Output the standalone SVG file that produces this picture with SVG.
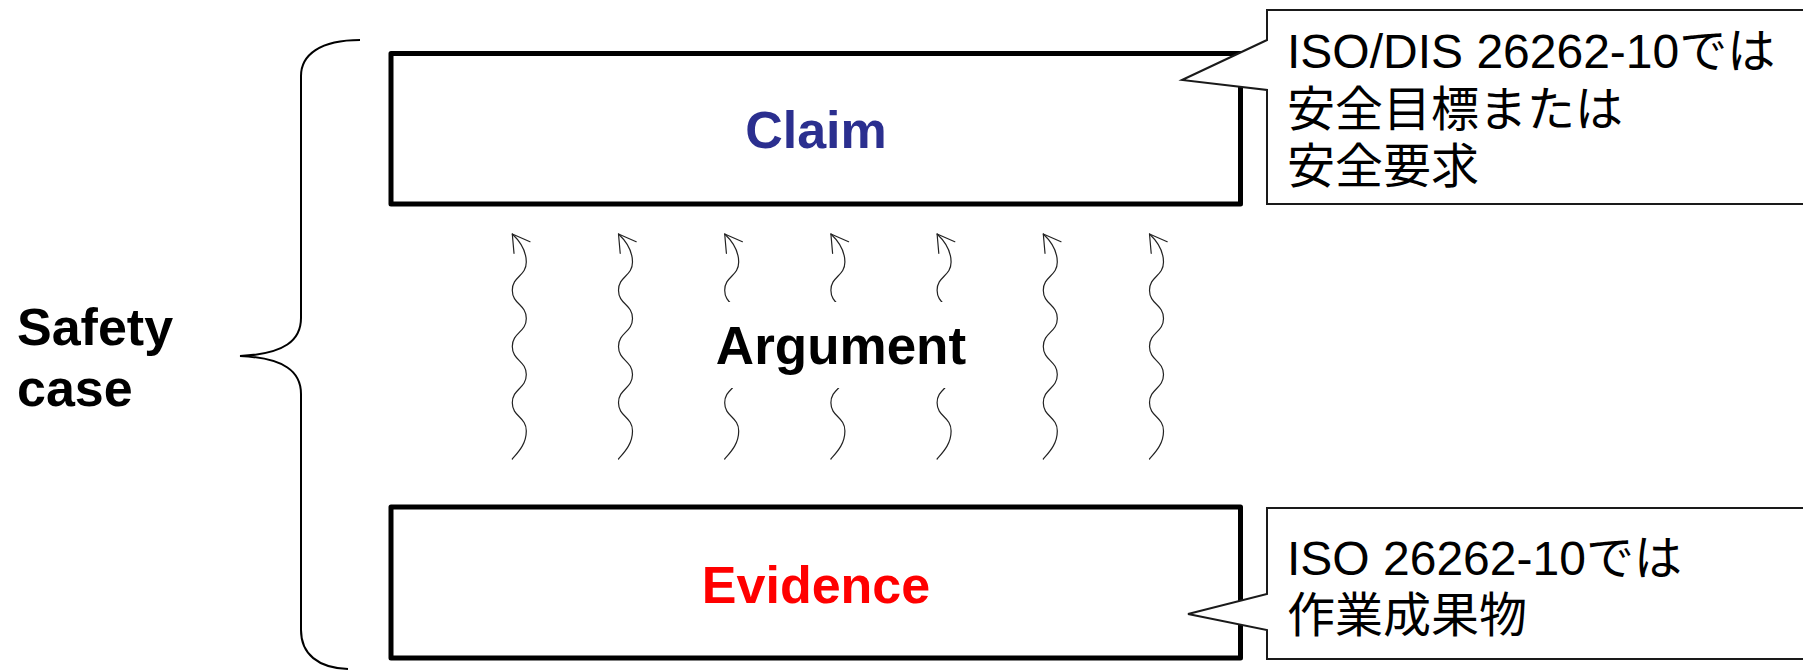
<svg xmlns="http://www.w3.org/2000/svg" xmlns:xlink="http://www.w3.org/1999/xlink" width="1803" height="670" viewBox="0 0 1803 670">
<style>
.box{fill:#fff;stroke:#000;stroke-width:5;stroke-linejoin:round}
.callout{fill:#fff;stroke:#1a1a1a;stroke-width:2;stroke-linejoin:miter}
.lbl{font-family:"Liberation Sans",Arial,sans-serif;font-weight:bold;font-size:52px;text-anchor:middle}
.note{font-family:"Liberation Sans","Noto Sans CJK JP",sans-serif;font-size:48px;fill:#000}
.wave{fill:none;stroke:#222;stroke-width:1.2;stroke-linecap:round;stroke-linejoin:round}
.brace{fill:none;stroke:#000;stroke-width:2}
</style>
<defs>
<g id="wave" class="wave">
<path d="M0,225 C6,218 14,210 14,196.9 C14,182.8 0,182.8 0,168.75 C0,154.7 14,154.7 14,140.6 C14,126.6 0,126.6 0,112.5 C0,98.4 14,98.4 14,84.4 C14,70.3 0,70.3 0,56.25 C0,42.2 14,42.2 14,28.1 C14,16 8.5,8 0,0"/>
<path d="M1.7,19.3 L0,0 L17.7,7.7"/>
</g>
</defs>
<rect width="1803" height="670" fill="#fff"/>

<g id="safety-case">
<path class="brace" d="M360,40 C320,40 301,55 301,76 L301,318 C301,340 285,354 240,356 C285,358 301,372 301,394 L301,630 C301,654 318,668 348,669"/>
<text class="lbl" style="text-anchor:start" x="17" y="345">Safety</text>
<text class="lbl" style="text-anchor:start" x="17" y="406">case</text>
</g>

<g id="connectors">
<use xlink:href="#wave" href="#wave" x="512.3" y="234"/>
<use xlink:href="#wave" href="#wave" x="618.5" y="234"/>
<use xlink:href="#wave" href="#wave" x="724.7" y="234"/>
<use xlink:href="#wave" href="#wave" x="830.9" y="234"/>
<use xlink:href="#wave" href="#wave" x="937.1" y="234"/>
<use xlink:href="#wave" href="#wave" x="1043.3" y="234"/>
<use xlink:href="#wave" href="#wave" x="1149.5" y="234"/>
</g>

<g id="argument">
<rect x="705" y="302" width="270" height="86" fill="#fff"/>
<text class="lbl" x="841" y="364" fill="#000" style="font-size:53px">Argument</text>
</g>

<g id="claim">
<rect class="box" x="391" y="53.5" width="849.5" height="150.5"/>
<text class="lbl" x="816" y="148" fill="#2B2F8F">Claim</text>
</g>

<g id="evidence">
<rect class="box" x="391" y="507" width="849.5" height="151"/>
<text class="lbl" x="816" y="603" fill="#FF0000">Evidence</text>
</g>

<g id="note-claim">
<path class="callout" d="M1267,10 L1815,10 L1815,204 L1267,204 L1267,90 L1182,80 L1267,40 Z"/>
<text class="note" x="1287" y="68">ISO/DIS 26262-10では</text>
<text class="note" x="1287" y="125.5">安全目標または</text>
<text class="note" x="1287" y="183">安全要求</text>
</g>

<g id="note-evidence">
<path class="callout" d="M1267,508 L1815,508 L1815,659 L1267,659 L1267,630 L1188,614 L1267,594 Z"/>
<text class="note" x="1287" y="575">ISO 26262-10では</text>
<text class="note" x="1287" y="632">作業成果物</text>
</g>
</svg>
